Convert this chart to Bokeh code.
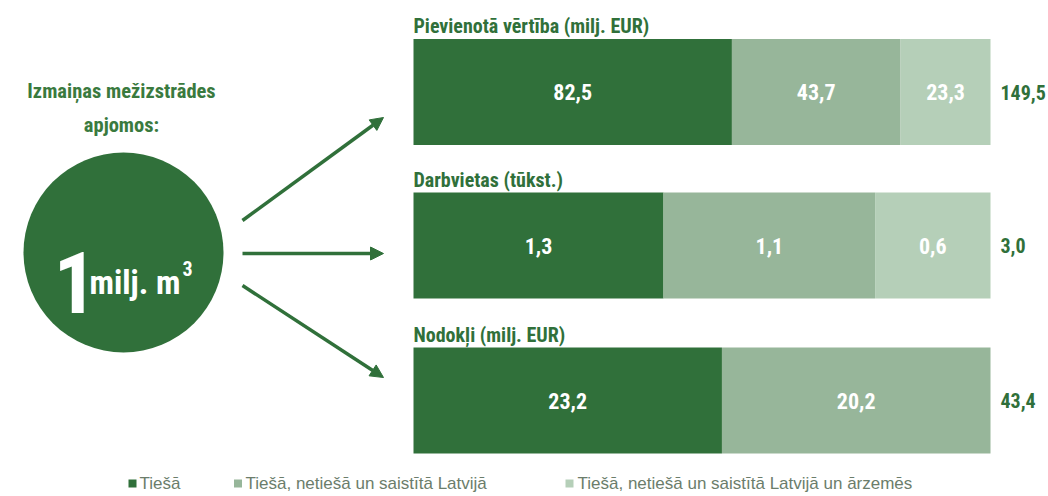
from bokeh.plotting import figure
from bokeh.models import Range1d, ColumnDataSource, Arrow, NormalHead
from bokeh.core.properties import value
from bokeh.embed import file_html
from bokeh.resources import INLINE

# ---------------- data ----------------
metrics = ["Pievienotā vērtība (milj. EUR)", "Darbvietas (tūkst.)", "Nodokļi (milj. EUR)"]
series = ["Tiešā", "Tiešā, netiešā un saistītā Latvijā",
          "Tiešā, netiešā un saistītā Latvijā un ārzemēs"]
direct = [82.5, 1.3, 23.2]
indirect = [43.7, 1.1, 20.2]
abroad = [23.3, 0.6, 0.0]
totals = [149.5, 3.0, 43.4]
headline = ["Izmaiņas mežizstrādes", "apjomos:"]
volume_num = "1"
volume_unit = "milj. m"
volume_sup = "3"

# ---------------- style ----------------
colors = ["#30703a", "#97b69a", "#b5cfb8"]
green = "#30703a"
head_green = "#3a7a3e"
FONT = "'Roboto Condensed', 'DejaVu Sans Condensed', Roboto, sans-serif"
W, H = 1048, 496
BX0, BX1 = 413, 990          # bar span (screen units)
bar_centers = [91.5, 245, 400]
bar_h = 106

def fmt(v):
    return f"{v:.1f}".replace(".", ",")

p = figure(width=W, height=H, output_backend="svg", toolbar_location=None,
           x_range=Range1d(0, W), y_range=Range1d(H, 0), min_border=0,
           outline_line_color=None, background_fill_color="white")
p.axis.visible = False
p.grid.visible = False

seg_values = [direct, indirect, abroad]
for i, m in enumerate(metrics):
    vals = [s[i] for s in seg_values]
    span = sum(vals)
    k = span / (BX1 - BX0)
    name = f"b{i}"
    p.extra_x_ranges[name] = Range1d(-BX0 * k, (W - BX0) * k)
    left, right, cols, labs, mids = [], [], [], [], []
    cum = 0.0
    for j, v in enumerate(vals):
        if v <= 0:
            continue
        left.append(cum); right.append(cum + v)
        mids.append(cum + v / 2); cols.append(colors[j]); labs.append(fmt(v))
        cum += v
    yc = bar_centers[i]
    src = ColumnDataSource(dict(left=left, right=right, y=[yc] * len(left),
                                color=cols, lab=labs, mid=mids))
    p.hbar(y="y", left="left", right="right", height=bar_h, color="color",
           line_color=None, source=src, x_range_name=name)
    p.text(x="mid", y="y", text="lab", source=src, x_range_name=name,
           text_color="white", text_font=value(FONT), text_font_style="bold",
           text_font_size="22px", text_align="center", text_baseline="middle")
    # title
    p.text(x=[BX0], y=[yc - bar_h / 2 - 1], text=[m], text_color=green,
           text_font=value(FONT), text_font_style="bold", text_font_size="20px",
           text_align="left", text_baseline="bottom")
    # total
    p.text(x=[1000], y=[yc], text=[fmt(totals[i])], text_color=green,
           text_font=value(FONT), text_font_style="bold", text_font_size="20px",
           text_align="left", text_baseline="middle")

# left headline
p.text(x=[121, 121], y=[90, 124], text=headline, text_color=head_green,
       text_font=value(FONT), text_font_style="bold", text_font_size="20.5px",
       text_align="center", text_baseline="middle")

# circle
p.circle(x=[123], y=[252], radius=100, fill_color=green, line_color=None)
p.text(x=[53], y=[282], text=[volume_num], text_color="white",
       text_font=value(FONT), text_font_style="bold", text_font_size="86px",
       text_align="left", text_baseline="alphabetic")
p.text(x=[89], y=[282], text=[volume_unit], text_color="white",
       text_font=value(FONT), text_font_style="bold", text_font_size="33px",
       text_align="left", text_baseline="alphabetic")
p.text(x=[182], y=[268], text=[volume_sup], text_color="white",
       text_font=value(FONT), text_font_style="bold", text_font_size="20px",
       text_align="left", text_baseline="alphabetic")

# arrows
for (xs, ys, xe, ye) in [(242, 220, 383, 117), (242, 253, 383, 253), (242, 285, 383, 377)]:
    p.add_layout(Arrow(end=NormalHead(size=13, fill_color=green, line_color=green),
                       x_start=xs, y_start=ys, x_end=xe, y_end=ye,
                       line_color=green, line_width=3.5))

# legend
leg_mx = [132, 237.5, 569]
leg_tx = [139, 245, 577]
p.scatter(x=leg_mx, y=[483] * 3, marker="square", size=8, color=colors, line_color=None)
p.text(x=leg_tx, y=[483] * 3, text=series, text_color="#6b7d6b",
       text_font=value("Liberation Sans"), text_font_size="17px",
       text_align="left", text_baseline="middle")

open("out.html", "w").write(file_html(p, INLINE))
